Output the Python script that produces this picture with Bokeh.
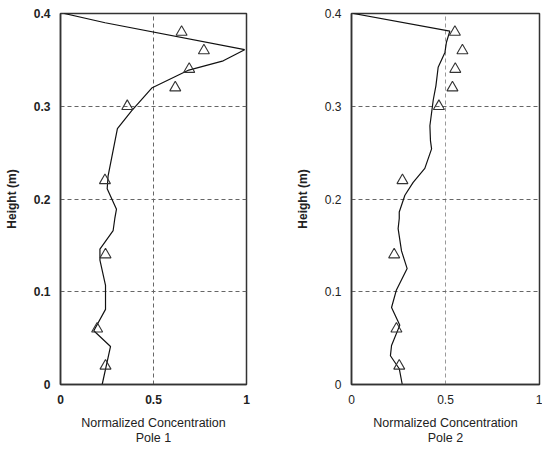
from bokeh.plotting import figure
from bokeh.layouts import row
from bokeh.models import Range1d, FixedTicker, NumeralTickFormatter
from bokeh.embed import file_html
from bokeh.resources import INLINE

# Pole 1 model profile (line)
pole1_line_x = [0.02, 0.24, 0.99, 0.875, 0.69, 0.493, 0.382, 0.306, 0.256, 0.251, 0.301,
                0.292, 0.283, 0.212, 0.212, 0.242, 0.242, 0.179, 0.269, 0.224]
pole1_line_y = [0.400, 0.390, 0.361, 0.349, 0.339, 0.320, 0.295, 0.276, 0.225, 0.211, 0.189,
                0.179, 0.166, 0.146, 0.134, 0.107, 0.081, 0.058, 0.041, 0.000]
# Pole 1 measurements (triangles)
pole1_obs_x = [0.651, 0.771, 0.692, 0.617, 0.359, 0.239, 0.242, 0.197, 0.242]
obs_y = [0.38, 0.36, 0.34, 0.32, 0.30, 0.22, 0.14, 0.06, 0.02]

# Pole 2 model profile (line)
pole2_line_x = [0.01, 0.523, 0.505, 0.497, 0.461, 0.449, 0.435, 0.417, 0.42, 0.426, 0.39,
                0.328, 0.284, 0.254, 0.254, 0.248, 0.266, 0.296, 0.239, 0.213, 0.257,
                0.213, 0.207, 0.254, 0.27]
pole2_line_y = [0.400, 0.381, 0.369, 0.358, 0.342, 0.322, 0.307, 0.279, 0.263, 0.254, 0.233,
                0.218, 0.204, 0.186, 0.179, 0.168, 0.144, 0.125, 0.102, 0.083, 0.064,
                0.042, 0.031, 0.017, 0.000]
# Pole 2 measurements (triangles)
pole2_obs_x = [0.55, 0.59, 0.552, 0.537, 0.465, 0.271, 0.227, 0.239, 0.254]

x_ticks = [0, 0.5, 1]
y_ticks = [0, 0.1, 0.2, 0.3, 0.4]
x_grid = [0.5]
y_grid = [0.1, 0.2, 0.3]

FONT = "Liberation Sans"


def make_panel(lx, ly, ox, oy, title, bold_ticks, border_left, border_right, fw, vgrid_color):
    p = figure(frame_width=fw, frame_height=371,
               x_range=Range1d(0, 1), y_range=Range1d(0, 0.4),
               output_backend="svg", toolbar_location=None,
               min_border_left=border_left, min_border_right=border_right,
               min_border_top=13, min_border_bottom=56)
    p.background_fill_color = "white"
    p.outline_line_color = "#333333"
    p.outline_line_width = 1.5

    p.line(lx, ly, line_color="#111111", line_width=1.2)
    p.scatter(ox, oy, marker="triangle", size=11, fill_alpha=0,
              line_color="#333333", line_width=1.1)

    p.xaxis.ticker = FixedTicker(ticks=x_ticks)
    p.yaxis.ticker = FixedTicker(ticks=y_ticks)
    p.xaxis.formatter = NumeralTickFormatter(format="0.[0]")
    p.yaxis.formatter = NumeralTickFormatter(format="0.[0]")
    for ax in (p.xaxis[0], p.yaxis[0]):
        ax.axis_line_color = "#333333"
        ax.axis_line_width = 1.5
        ax.major_tick_line_color = None
        ax.minor_tick_line_color = None
        ax.major_tick_out = 0
        ax.major_tick_in = 0
        ax.minor_tick_out = 0
        ax.minor_tick_in = 0
        ax.major_label_text_font = FONT
        ax.major_label_text_font_size = "12px"
        ax.major_label_text_color = "#222222"
        ax.major_label_text_font_style = "bold" if bold_ticks else "normal"
        ax.axis_label_text_font = FONT
        ax.axis_label_text_color = "#222222"
    p.xaxis.major_label_standoff = 10
    p.yaxis.major_label_standoff = 10
    p.xaxis.axis_label = "Normalized Concentration\n" + title
    p.xaxis.axis_label_text_font_style = "normal"
    p.xaxis.axis_label_text_font_size = "12.5px"
    p.xaxis.axis_label_text_line_height = 1.1
    p.xaxis.axis_label_standoff = 9
    p.yaxis.axis_label = "Height (m)"
    p.yaxis.axis_label_text_font_style = "bold"
    p.yaxis.axis_label_text_font_size = "12px"
    p.yaxis.axis_label_standoff = 12

    p.xgrid.ticker = FixedTicker(ticks=x_grid)
    p.ygrid.ticker = FixedTicker(ticks=y_grid)
    p.xgrid.grid_line_color = vgrid_color
    p.ygrid.grid_line_color = "#666666"
    p.xgrid.grid_line_dash = "4 3"
    p.ygrid.grid_line_dash = "4 3"
    p.grid.grid_line_width = 1
    return p


p1 = make_panel(pole1_line_x, pole1_line_y, pole1_obs_x, obs_y, "Pole 1", True, 60, 26, 186, "#666666")
p2 = make_panel(pole2_line_x, pole2_line_y, pole2_obs_x, obs_y, "Pole 2", False, 79, 3, 188, "#999999")

layout = row(p1, p2)
open("out.html", "w").write(file_html(layout, INLINE))
